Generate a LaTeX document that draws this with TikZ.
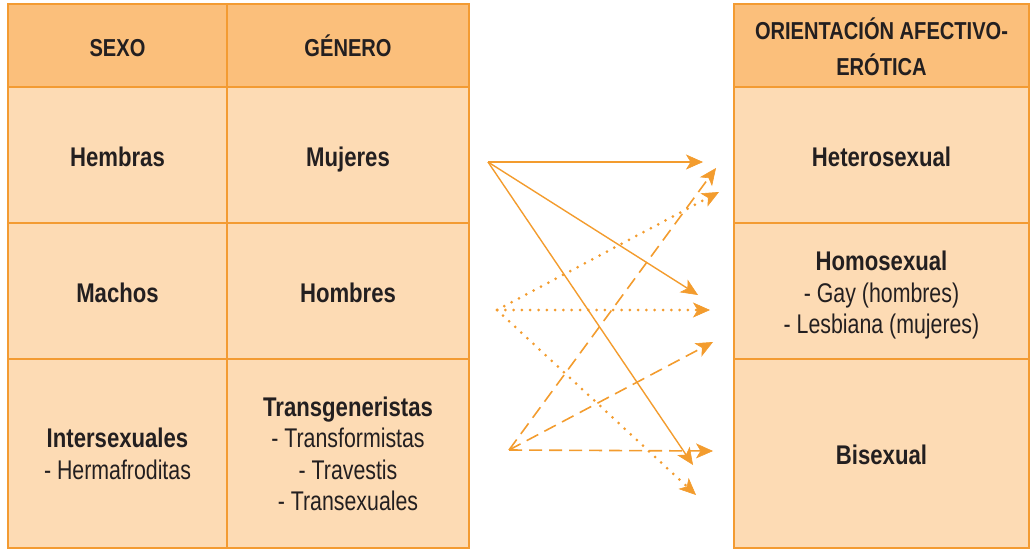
\documentclass[tikz,border=0pt]{standalone}
\usepackage{fontspec}
\setmainfont{Liberation Sans}[UprightFeatures={FakeStretch=0.79}, BoldFeatures={FakeStretch=0.82}]
\usetikzlibrary{arrows.meta}
\definecolor{hdr}{HTML}{FBBF7B}
\definecolor{bdy}{HTML}{FDDBB4}
\definecolor{brd}{HTML}{F39B32}
\definecolor{arr}{HTML}{F39C2E}
\definecolor{txt}{HTML}{231F20}
\tikzset{
  hcell/.style={draw=brd, fill=hdr, line width=1.2pt},
  bcell/.style={draw=brd, fill=bdy, line width=1.2pt},
  lbl/.style={align=center, text=txt, font=\fontsize{27}{31.5}\selectfont, inner sep=0pt},
  slbl/.style={lbl, anchor=base},
  hlbl/.style={lbl, font=\fontsize{24.5}{36}\selectfont\bfseries},
  tip/.style={-{Stealth[length=17pt,width=15pt,inset=4.5pt,fill=arr,line width=0.6pt]}},
  solidarr/.style={tip, draw=arr, line width=1.4pt},
  dotarr/.style={tip, draw=arr, line width=3pt, line cap=round, dash pattern=on 0pt off 8.3pt},
  dasharr/.style={tip, draw=arr, line width=1.6pt, dash pattern=on 13pt off 7pt},
}
\begin{document}
\begin{tikzpicture}[x=1pt, y=-1pt]
\useasboundingbox (0,0) rectangle (1030,549);
% left table
\path[hcell] (8,4) rectangle (227,87);
\path[hcell] (227,4) rectangle (469,87);
\path[bcell] (8,87) rectangle (227,223);
\path[bcell] (227,87) rectangle (469,223);
\path[bcell] (8,223) rectangle (227,359);
\path[bcell] (227,223) rectangle (469,359);
\path[bcell] (8,359) rectangle (227,548);
\path[bcell] (227,359) rectangle (469,548);
% right table
\path[hcell] (734,4) rectangle (1029,87);
\path[bcell] (734,87) rectangle (1029,223);
\path[bcell] (734,223) rectangle (1029,359);
\path[bcell] (734,359) rectangle (1029,548);
% labels
\node[hlbl, anchor=base] (sexo) at (117.5,56) {SEXO};
\node[hlbl, anchor=base] (genero) at (348,56) {GÉNERO};
\node[hlbl] (orient) at (881.5,47) {ORIENTACIÓN AFECTIVO-\\ERÓTICA};
\node[slbl] (hembras) at (117.5,166.5) {\bfseries Hembras};
\node[slbl] (mujeres) at (348,166.5) {\bfseries Mujeres};
\node[slbl] (hetero) at (881.5,166.5) {\bfseries Heterosexual};
\node[slbl] (machos) at (117.5,302.5) {\bfseries Machos};
\node[slbl] (hombres) at (348,302.5) {\bfseries Hombres};
\node[lbl] (homo) at (881.5,295.5) {\textbf{Homosexual}\\- Gay (hombres)\\- Lesbiana (mujeres)};
\node[lbl] (inter) at (117.5,454) {\textbf{Intersexuales}\\- Hermafroditas};
\node[lbl] (trans) at (348,454) {\textbf{Transgeneristas}\\- Transformistas\\- Travestis\\- Transexuales};
\node[slbl] (bi) at (881.5,464.5) {\bfseries Bisexual};
% arrow anchors
\coordinate (s1) at (488,162);
\coordinate (s2) at (497,310);
\coordinate (s3) at (509,450);
\coordinate (a1) at (703,162);
\coordinate (a2) at (698,295);
\coordinate (a3) at (693,465);
\coordinate (b1) at (719,192);
\coordinate (b2) at (710,310);
\coordinate (b3) at (696,495);
\coordinate (c1) at (716,168);
\coordinate (c2) at (713,342);
\coordinate (c3) at (713,451);
% arrows
\draw[solidarr] (s1) -- (a1);
\draw[solidarr] (s1) -- (a2);
\draw[solidarr] (s1) -- (a3);
\draw[dotarr] (s2) -- (b1);
\draw[dotarr] (s2) -- (b2);
\draw[dotarr] (s2) -- (b3);
\draw[dasharr] (s3) -- (c1);
\draw[dasharr] (s3) -- (c2);
\draw[dasharr] (s3) -- (c3);
\end{tikzpicture}
\end{document}
